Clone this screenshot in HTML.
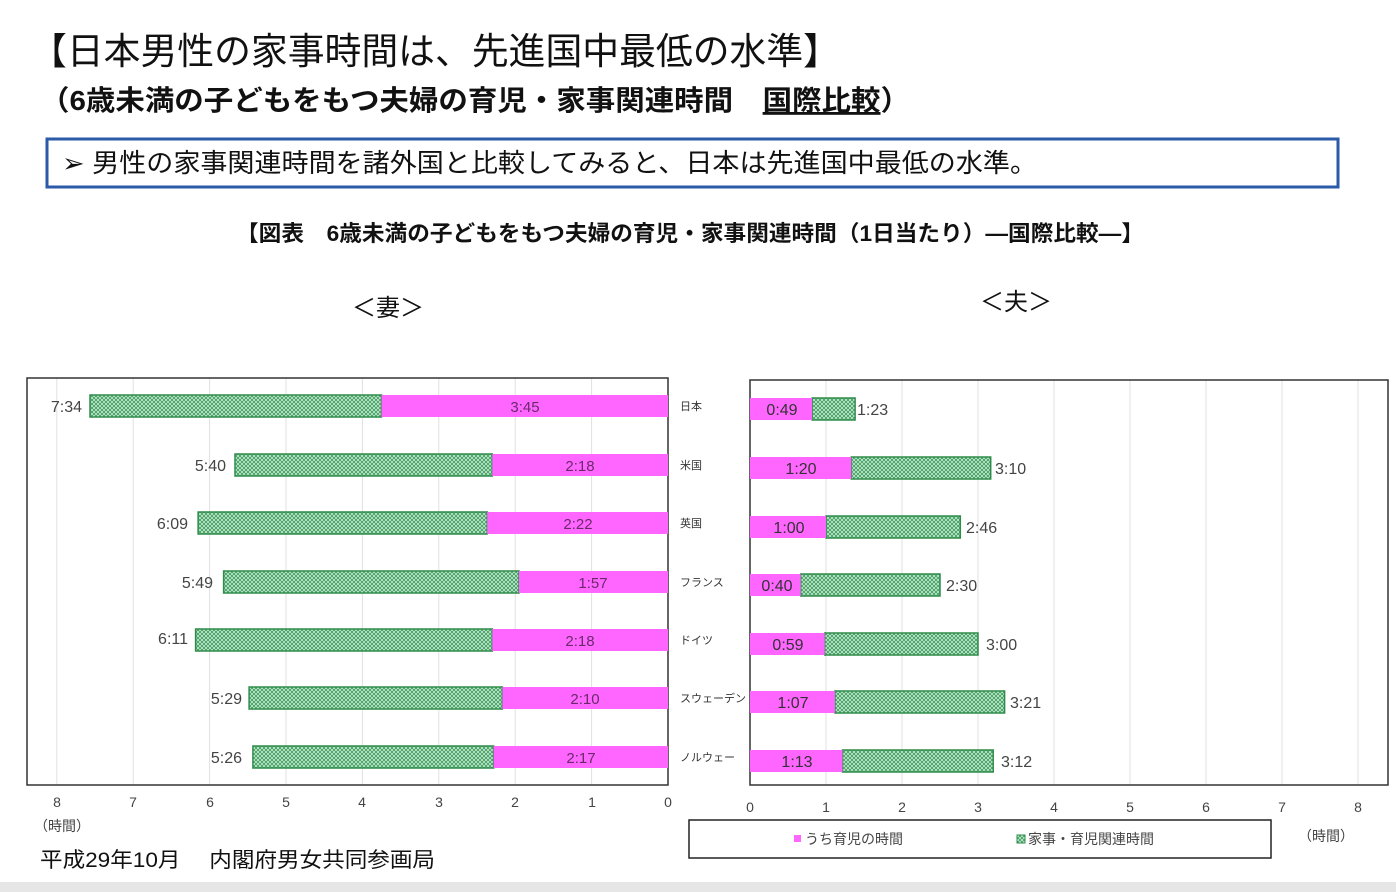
<!DOCTYPE html>
<html><head><meta charset="utf-8"><style>
html,body{margin:0;padding:0;background:#fff;}
svg{display:block;font-family:"Liberation Sans","Noto Sans CJK JP",sans-serif;}
</style></head><body>
<svg width="1396" height="892" viewBox="0 0 1396 892" xmlns="http://www.w3.org/2000/svg">
<defs>
<pattern id="hx" width="4" height="4" patternUnits="userSpaceOnUse">
<rect width="4" height="4" fill="#c8ecd4"/>
<path d="M0 0L4 4M4 0L0 4" stroke="#3a9a5a" stroke-width="0.8"/>
</pattern>
</defs>
<rect x="0" y="882" width="1396" height="10" fill="#e6e6e6"/>
<text x="30" y="64" font-size="37" fill="#111" textLength="810" lengthAdjust="spacingAndGlyphs">【日本男性の家事時間は、先進国中最低の水準】</text>
<text x="40" y="110" font-size="28" font-weight="bold" fill="#111" textLength="870" lengthAdjust="spacingAndGlyphs">（6歳未満の子どもをもつ夫婦の育児・家事関連時間　<tspan text-decoration="underline">国際比較</tspan>）</text>
<rect x="47" y="139" width="1291" height="48" fill="#fff" stroke="#2a5aa8" stroke-width="3"/>
<text x="62" y="172" font-size="26" fill="#111" textLength="975" lengthAdjust="spacingAndGlyphs">➢  男性の家事関連時間を諸外国と比較してみると、日本は先進国中最低の水準。</text>
<text x="236" y="241" font-size="22" font-weight="bold" fill="#111" textLength="908" lengthAdjust="spacingAndGlyphs">【図表　6歳未満の子どもをもつ夫婦の育児・家事関連時間（1日当たり）―国際比較―】</text>
<text x="352" y="316" font-size="24" fill="#111">＜妻＞</text>
<text x="980" y="310" font-size="24" fill="#111">＜夫＞</text>

<!-- left chart -->
<g stroke="#e0e0e0" stroke-width="1">
<line x1="591.6" y1="378" x2="591.6" y2="785"/><line x1="515.2" y1="378" x2="515.2" y2="785"/><line x1="438.8" y1="378" x2="438.8" y2="785"/><line x1="362.4" y1="378" x2="362.4" y2="785"/><line x1="286" y1="378" x2="286" y2="785"/><line x1="209.6" y1="378" x2="209.6" y2="785"/><line x1="133.2" y1="378" x2="133.2" y2="785"/><line x1="56.8" y1="378" x2="56.8" y2="785"/>
</g>
<rect x="27" y="378" width="641" height="407" fill="none" stroke="#333" stroke-width="1.5"/>
<g stroke="#2e8b4a" stroke-width="1.5">
<rect x="90" y="395" width="291.5" height="22" fill="url(#hx)"/>
<rect x="235" y="454" width="257.3" height="22" fill="url(#hx)"/>
<rect x="198.1" y="512" width="289.1" height="22" fill="url(#hx)"/>
<rect x="223.6" y="571" width="295.4" height="22" fill="url(#hx)"/>
<rect x="195.6" y="629" width="296.7" height="22" fill="url(#hx)"/>
<rect x="249.1" y="687" width="253.3" height="22" fill="url(#hx)"/>
<rect x="252.9" y="746" width="240.7" height="22" fill="url(#hx)"/>
</g>
<g fill="#ff66ff">
<rect x="381.5" y="395" width="286.5" height="22"/>
<rect x="492.3" y="454" width="175.7" height="22"/>
<rect x="487.2" y="512" width="180.8" height="22"/>
<rect x="519" y="571" width="149" height="22"/>
<rect x="492.3" y="629" width="175.7" height="22"/>
<rect x="502.4" y="687" width="165.6" height="22"/>
<rect x="493.6" y="746" width="174.4" height="22"/>
</g>
<g font-size="16" fill="#444" text-anchor="end">
<text x="82" y="412">7:34</text><text x="226" y="471">5:40</text><text x="188" y="529">6:09</text><text x="213" y="588">5:49</text><text x="188" y="644">6:11</text><text x="242" y="704">5:29</text><text x="242" y="763">5:26</text>
</g>
<g font-size="15" fill="#6a2a6a" text-anchor="middle">
<text x="525" y="412">3:45</text><text x="580" y="471">2:18</text><text x="578" y="529">2:22</text><text x="593" y="588">1:57</text><text x="580" y="646">2:18</text><text x="585" y="704">2:10</text><text x="581" y="763">2:17</text>
</g>
<g font-size="11" fill="#333">
<text x="680" y="410">日本</text><text x="680" y="469">米国</text><text x="680" y="527">英国</text><text x="680" y="586">フランス</text><text x="680" y="644">ドイツ</text><text x="680" y="702">スウェーデン</text><text x="680" y="761">ノルウェー</text>
</g>
<g font-size="14" fill="#444" text-anchor="middle">
<text x="57" y="807">8</text><text x="133" y="807">7</text><text x="210" y="807">6</text><text x="286" y="807">5</text><text x="362" y="807">4</text><text x="439" y="807">3</text><text x="515" y="807">2</text><text x="592" y="807">1</text><text x="668" y="807">0</text>
</g>
<text x="34" y="831" font-size="14" fill="#444">（時間）</text>
<text x="40" y="867" font-size="21" fill="#111" textLength="395" lengthAdjust="spacingAndGlyphs">平成29年10月　 内閣府男女共同参画局</text>

<!-- right chart -->
<g stroke="#e0e0e0" stroke-width="1">
<line x1="826" y1="380" x2="826" y2="785"/><line x1="902" y1="380" x2="902" y2="785"/><line x1="978" y1="380" x2="978" y2="785"/><line x1="1054" y1="380" x2="1054" y2="785"/><line x1="1130" y1="380" x2="1130" y2="785"/><line x1="1206" y1="380" x2="1206" y2="785"/><line x1="1282" y1="380" x2="1282" y2="785"/><line x1="1358" y1="380" x2="1358" y2="785"/>
</g>
<rect x="750" y="380" width="638" height="405" fill="none" stroke="#333" stroke-width="1.5"/>
<g stroke="#2e8b4a" stroke-width="1.5">
<rect x="812.1" y="398" width="43" height="22" fill="url(#hx)"/>
<rect x="851.3" y="457" width="139.4" height="22" fill="url(#hx)"/>
<rect x="826" y="516" width="134.3" height="22" fill="url(#hx)"/>
<rect x="800.7" y="574" width="139.3" height="22" fill="url(#hx)"/>
<rect x="824.7" y="633" width="153.3" height="22" fill="url(#hx)"/>
<rect x="834.9" y="691" width="169.7" height="22" fill="url(#hx)"/>
<rect x="842.5" y="750" width="150.7" height="22" fill="url(#hx)"/>
</g>
<g fill="#ff66ff">
<rect x="750" y="398" width="62.1" height="22"/>
<rect x="750" y="457" width="101.3" height="22"/>
<rect x="750" y="516" width="76" height="22"/>
<rect x="750" y="574" width="50.7" height="22"/>
<rect x="750" y="633" width="74.7" height="22"/>
<rect x="750" y="691" width="84.9" height="22"/>
<rect x="750" y="750" width="92.5" height="22"/>
</g>
<g font-size="16" fill="#333" text-anchor="middle">
<text x="782" y="415">0:49</text><text x="801" y="474">1:20</text><text x="789" y="533">1:00</text><text x="777" y="591">0:40</text><text x="788" y="650">0:59</text><text x="793" y="708">1:07</text><text x="797" y="767">1:13</text>
</g>
<g font-size="16" fill="#444">
<text x="857" y="415">1:23</text><text x="995" y="474">3:10</text><text x="966" y="533">2:46</text><text x="946" y="591">2:30</text><text x="986" y="650">3:00</text><text x="1010" y="708">3:21</text><text x="1001" y="767">3:12</text>
</g>
<g font-size="14" fill="#444" text-anchor="middle">
<text x="750" y="812">0</text><text x="826" y="812">1</text><text x="902" y="812">2</text><text x="978" y="812">3</text><text x="1054" y="812">4</text><text x="1130" y="812">5</text><text x="1206" y="812">6</text><text x="1282" y="812">7</text><text x="1358" y="812">8</text>
</g>
<rect x="689" y="820" width="582" height="38" fill="#fff" stroke="#222" stroke-width="1.5"/>
<rect x="794" y="835" width="7" height="7" fill="#ff66ff"/>
<text x="805" y="844" font-size="14" fill="#444">うち育児の時間</text>
<rect x="1017" y="835" width="8" height="8" fill="url(#hx)" stroke="#2e8b4a" stroke-width="1"/>
<text x="1028" y="844" font-size="14" fill="#444">家事・育児関連時間</text>
<text x="1298" y="841" font-size="14" fill="#444">（時間）</text>
</svg>
</body></html>
